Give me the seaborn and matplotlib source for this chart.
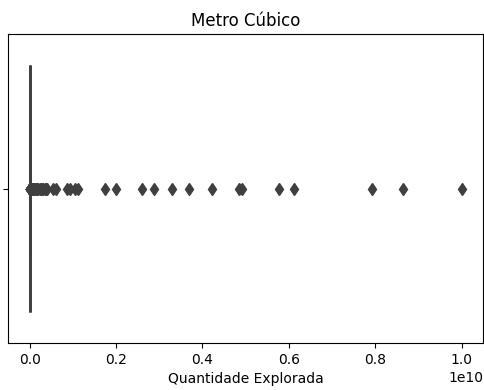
import matplotlib
matplotlib.use('Agg')
import matplotlib.pyplot as plt
import seaborn as sns
import numpy as np
import pandas as pd

# Quantidade explorada (m3) - the bulk is tiny, with a long tail of outliers
# bulk values and how many records share each value
bulk_values = [1.0e3, 5.0e3, 1.2e4, 3.5e4, 8.0e4, 1.5e5, 3.0e5, 6.0e5, 1.2e6, 2.5e6, 5.0e6, 9.0e6]
bulk_counts = [40, 45, 40, 35, 30, 25, 20, 15, 12, 8, 6, 4]
cluster = [4.5e7, 6.0e7, 8.0e7, 1.0e8, 1.2e8, 1.45e8, 1.7e8, 2.0e8, 2.3e8, 2.6e8,
           2.9e8, 3.2e8, 3.5e8, 3.8e8, 4.1e8]
tail = [5.5e8, 6.2e8, 8.7e8, 9.4e8, 1.04e9, 1.13e9, 1.75e9, 2.0e9, 2.6e9, 2.88e9,
        3.29e9, 3.69e9, 4.22e9, 4.85e9, 4.91e9, 5.78e9, 6.13e9, 7.93e9, 8.64e9, 1.0e10]

values = list(np.repeat(bulk_values, bulk_counts)) + cluster + tail
df = pd.DataFrame({'Quantidade Explorada': values})

gray = '#3f3f3f'
fig = plt.figure(figsize=(4.84, 3.9), dpi=100)
ax = fig.add_axes([0.0165, 0.1205, 0.982, 0.7923])
sns.boxplot(data=df, x='Quantidade Explorada', ax=ax, color='#5f7fa8',
            linecolor=gray, linewidth=2, fliersize=6,
            flierprops=dict(marker='d', markerfacecolor=gray, markeredgecolor=gray))
ax.set_title('Metro Cúbico')
ax.set_yticks([0])
ax.set_yticklabels([''])
ax.set_ylim(0.5, -0.5)

fig.savefig('out.png', dpi=100)
